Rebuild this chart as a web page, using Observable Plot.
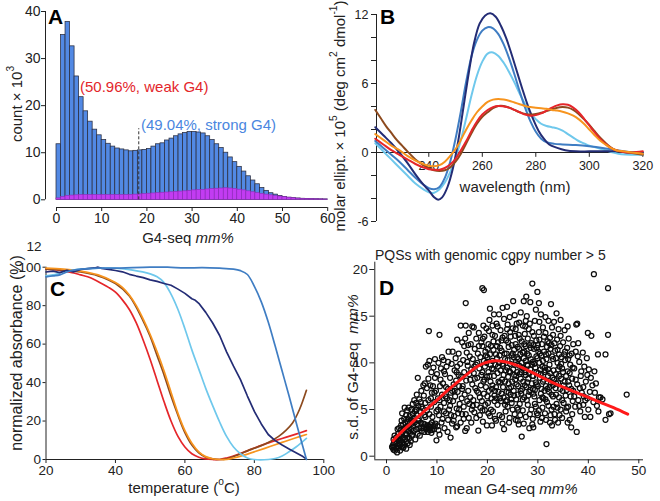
<!DOCTYPE html>
<html><head><meta charset="utf-8">
<script src="https://cdn.jsdelivr.net/npm/d3@7"></script>
<script src="https://cdn.jsdelivr.net/npm/@observablehq/plot@0.6"></script>
<style>
html,body{margin:0;padding:0;background:#fff;}
#fig{position:relative;width:660px;height:501px;overflow:hidden;background:#fff;}
#fig svg{position:absolute;left:0;top:0;}
</style></head><body><div id="fig"></div>
<script>
// ---------- DATA ----------
// Panel A: histogram of G4-seq mm% (count x 10^3), bins of width 1 from 0 to 60
const aBinStart = d3.range(0, 60);
const aAllCounts = [11.8,35.0,37.8,32.6,26.2,21.8,18.8,16.6,14.9,13.7,
  12.7,11.9,11.3,10.9,10.7,10.5,10.3,10.4,10.5,10.6,
  10.8,11.3,11.8,12.0,12.6,13.0,13.5,13.9,14.2,14.4,
  14.4,14.3,14.1,13.5,12.7,11.8,11.0,10.0,9.0,8.0,
  7.0,6.0,5.0,4.1,3.3,2.5,1.9,1.4,1.1,0.8,
  0.6,0.45,0.35,0.28,0.22,0.18,0.14,0.12,0.1,0.08];
const aSubCounts = [0.3,0.6,0.8,0.9,0.95,1.0,1.0,1.0,1.0,1.0,
  1.0,1.0,1.0,1.0,1.0,1.0,1.05,1.1,1.15,1.2,
  1.3,1.35,1.4,1.5,1.55,1.6,1.7,1.75,1.8,1.9,
  2.0,2.05,2.1,2.2,2.3,2.35,2.4,2.45,2.4,2.3,
  2.15,2.0,1.8,1.6,1.4,1.25,1.1,0.95,0.8,0.7,
  0.55,0.45,0.33,0.25,0.2,0.16,0.13,0.11,0.09,0.07];
const aSplit = 18.2, aSplitTop = 15.1;
const aXTicks = [0,10,20,30,40,50,60];
const aYTicks = [0,10,20,30,40];
const aWeakLabel = "(50.96%, weak G4)";
const aStrongLabel = "(49.04%, strong G4)";

// Panel B: CD spectra [wavelength nm, molar ellipticity x 10^5]
const bNavy = [[220,2.2],[223,1.5],[226,0.8],[229,0.0],[232,-0.9],[235,-1.9],[238,-2.8],[240,-3.3],[242,-3.9],[243.5,-4.1],[245,-3.9],[247,-3.0],[249,-1.4],[251,1.0],[253,4.0],[255,7.0],[257,9.6],[259,11.2],[261,11.9],[263,12.1],[265,11.8],[267,11.0],[269,9.9],[271,8.5],[273,7.0],[275,5.5],[277,4.1],[279,2.9],[281,1.9],[283,1.2],[285,0.7],[288,0.4],[291,0.2],[295,0.1],[300,0.1],[305,0.1],[310,0.1],[315,0.0],[320,0.0]];
const bMedium = [[220,1.0],[223,0.4],[226,-0.2],[229,-0.8],[232,-1.5],[235,-2.2],[238,-2.8],[240,-3.1],[242,-3.2],[244,-3.0],[246,-2.2],[248,-0.8],[250,1.2],[252,3.6],[254,6.2],[256,8.4],[258,9.8],[260,10.6],[262,10.9],[264,10.8],[266,10.3],[268,9.4],[270,8.2],[272,6.8],[274,5.3],[276,3.9],[278,2.7],[280,1.8],[282,1.2],[284,0.9],[287,0.75],[290,0.7],[295,0.65],[300,0.55],[305,0.4],[310,0.2],[315,0.05],[320,0.0]];
const bLight = [[220,0.8],[223,0.1],[226,-0.6],[229,-1.3],[232,-2.0],[235,-2.7],[238,-3.2],[240,-3.45],[242,-3.5],[244,-3.2],[246,-2.6],[248,-1.7],[250,-0.5],[252,1.1],[254,3.0],[256,5.0],[258,6.7],[260,7.9],[262,8.6],[264,8.7],[266,8.4],[268,7.8],[270,7.0],[272,6.1],[274,5.1],[276,4.2],[278,3.4],[280,2.9],[282,2.5],[284,2.3],[286,2.2],[288,2.1],[290,1.9],[292,1.6],[294,1.3],[296,1.0],[298,0.8],[300,0.6],[303,0.4],[306,0.2],[309,0.0],[312,-0.15],[316,-0.2],[320,-0.2]];
const bOrange = [[220,1.6],[223,1.1],[226,0.6],[229,0.2],[232,-0.3],[235,-0.7],[238,-1.0],[240,-1.15],[242,-1.2],[244,-1.1],[246,-0.8],[248,-0.3],[250,0.3],[252,1.1],[254,2.0],[256,2.8],[258,3.5],[260,4.0],[262,4.4],[264,4.6],[266,4.65],[268,4.6],[270,4.5],[272,4.35],[274,4.2],[276,4.05],[278,3.95],[280,3.9],[282,3.85],[284,3.8],[286,3.7],[288,3.65],[290,3.55],[292,3.4],[294,3.2],[296,2.9],[298,2.5],[300,2.0],[302,1.5],[304,1.05],[306,0.7],[308,0.4],[310,0.2],[313,0.1],[316,0.0],[320,-0.1]];
const bBrown = [[220,3.7],[222,3.0],[224,2.3],[226,1.7],[228,1.1],[230,0.6],[232,0.1],[235,-0.6],[238,-1.1],[240,-1.35],[242,-1.55],[244,-1.6],[246,-1.55],[248,-1.3],[250,-0.8],[252,-0.1],[254,0.8],[256,1.7],[258,2.5],[260,3.1],[262,3.5],[264,3.85],[266,4.05],[268,4.05],[270,3.9],[272,3.7],[274,3.5],[276,3.35],[278,3.3],[280,3.35],[282,3.45],[284,3.6],[286,3.75],[288,3.9],[290,3.95],[292,3.9],[294,3.7],[296,3.35],[298,2.9],[300,2.4],[302,1.85],[304,1.3],[306,0.85],[308,0.45],[310,0.2],[313,0.05],[316,-0.05],[320,-0.2]];
const bRed = [[220,1.2],[223,0.7],[226,0.2],[229,-0.2],[232,-0.6],[235,-1.0],[238,-1.3],[240,-1.45],[242,-1.5],[244,-1.5],[246,-1.35],[248,-1.05],[250,-0.55],[252,0.2],[254,1.0],[256,1.9],[258,2.7],[260,3.3],[262,3.7],[264,3.95],[266,4.05],[268,4.0],[270,3.9],[272,3.7],[274,3.5],[276,3.3],[278,3.2],[280,3.25],[282,3.4],[284,3.65],[286,3.9],[288,4.1],[290,4.2],[292,4.15],[294,3.9],[296,3.5],[298,2.95],[300,2.35],[302,1.75],[304,1.2],[306,0.75],[308,0.4],[310,0.2],[313,0.05],[316,0.0],[320,0.1]];
const bXTicks = [240,260,280,300,320];
const bYTicks = [-6,-4,-2,0,2,4,6,8,10,12];
const bYLabelled = [12,6,0,-6];

// Panel C: melting curves [temperature C, normalized absorbance %]
const cRed = [[20,99],[22,98.8],[25,98],[28,97],[30,96],[32,95],[34,93.5],[36,91.5],[38,89.5],[40,87],[42,83],[44,78],[46,71],[48,62],[50,52],[52,41],[54,30],[56,20],[58,12],[60,6.5],[62,3],[64,1.2],[66,0.3],[68,0],[70,0],[72,0.8],[75,2.5],[78,4.5],[80,6],[83,8],[86,9.8],[89,11.5],[92,13.2],[95,15]];
const cOrange = [[20,99.5],[25,99],[30,98],[35,96],[40,92],[42,89.5],[44,85.5],[46,80],[48,73],[50,65],[52,56],[54,46],[56,35],[58,24],[60,15],[62,8.5],[64,4],[66,1.5],[68,0.4],[70,0],[72,0],[74,0.8],[77,2.3],[80,4],[83,5.8],[86,7.7],[89,9.5],[92,11.3],[95,13]];
const cBrown = [[20,99],[25,98.5],[30,97.5],[35,95.5],[40,91.5],[44,85],[48,72],[50,64],[52,54],[54,44],[56,33],[58,23],[60,14],[62,7.5],[64,3.5],[66,1.2],[68,0.3],[70,0],[72,0.3],[75,2.2],[78,4.5],[81,6.5],[84,8.8],[87,12],[89,15],[91,19],[93,26],[95,36]];
const cLight = [[20,95.5],[22,96],[25,97.5],[28,98.5],[30,99],[35,99.5],[40,99.5],[45,98.5],[50,96.5],[52,95],[54,92],[56,86],[58,78],[60,68],[62,57],[64,47],[66,37],[68,28],[70,19.5],[72,12],[74,6.5],[76,3],[78,0.8],[80,0],[84,0],[86,0.5],[88,1.8],[90,4],[92,6.5],[95,11]];
const cNavy = [[20,97.5],[22,98],[24,97.2],[26,98.4],[28,97.6],[30,98.8],[32,99.3],[34,99.6],[35,100],[36,99.4],[38,98.9],[40,98.3],[42,97.6],[44,96.3],[46,95.4],[48,94.6],[50,93.4],[52,92.6],[54,91.5],[56,90.6],[58,88.6],[60,86.4],[62,83.6],[63,82.8],[64,81.2],[66,76.5],[68,71],[70,64.5],[72,56],[74,48.5],[76,41.5],[78,33],[80,25],[82,18.5],[84,13],[86,9.8],[88,7.5],[90,5.5],[92,3.5],[94,1.5],[95,0.2]];
const cMedium = [[20,95],[22,95.5],[24,96],[26,97.5],[28,98.5],[30,99],[35,99.5],[40,99.5],[45,99.8],[50,100],[55,100],[60,99.6],[65,99.8],[70,99.5],[74,99],[76,98.2],[78,96.2],[80,90],[82,82],[84,71.5],[86,59],[88,46],[90,33],[92,19.5],[94,6.5],[95,0]];
const cXTicks = [20,40,60,80,100];
const cYTicks = [0,20,40,60,80,100];

// Panel D: [mean G4-seq mm%, s.d. of G4-seq mm%]
const dPoints = [
[1.2,0.9],[1.3,1.2],[1.4,0.7],[1.5,1.5],[1.6,1.0],[1.7,0.6],[1.8,1.3],[1.9,2.0],[2.0,0.8],[2.0,1.6],[2.1,0.4],[2.2,1.1],[2.3,2.4],[2.3,1.8],[2.4,0.9],[2.5,3.0],[2.5,1.4],[2.6,2.1],[2.7,0.6],[2.7,1.2],[2.8,2.8],[2.8,1.7],[2.9,3.3],[2.9,2.3],[3.0,1.0],[1.6,2.2],[2.2,2.9],[1.1,1.0],[1.4,1.8],[3.1,4.6],
[3.1,1.5],[3.2,2.6],[3.3,3.4],[3.3,0.9],[3.4,2.0],[3.5,4.0],[3.5,1.2],[3.6,2.9],[3.7,3.6],[3.7,1.8],[3.8,2.4],[3.9,4.4],[3.9,0.8],[4.0,3.1],[4.1,2.0],[4.1,4.9],[4.2,1.4],[4.3,3.7],[4.3,2.7],[4.4,5.2],[4.5,1.9],[4.5,3.3],[4.6,4.3],[4.7,2.5],[4.8,3.9],[4.8,1.6],[4.9,5.0],[4.9,2.9],[5.0,3.5],[3.6,5.2],[4.2,4.0],[4.6,1.2],[3.0,3.8],[3.4,1.0],
[5.1,2.3],[5.2,4.5],[5.2,5.6],[5.3,3.2],[5.4,2.7],[5.5,6.0],[5.5,4.1],[5.6,3.6],[5.7,1.8],[5.8,5.0],[5.9,2.9],[6.0,6.6],[6.0,4.4],[6.1,3.4],[6.2,8.4],[6.2,2.4],[6.3,5.4],[6.4,4.0],[6.5,6.1],[6.5,3.0],[6.6,2.2],[6.7,4.8],[6.8,5.8],[6.8,3.6],[6.9,7.0],[7.0,2.7],[5.6,4.8],[6.3,3.8],[5.9,5.7],
[7.1,3.0],[7.2,5.1],[7.3,3.5],[7.4,6.5],[7.5,2.6],[7.5,4.4],[7.6,7.8],[7.7,3.2],[7.7,5.7],[7.8,9.6],[7.9,2.9],[8.0,4.9],[8.0,7.3],[8.1,3.3],[8.2,9.8],[8.2,2.6],[8.3,6.0],[8.4,13.4],[8.4,3.1],[8.5,4.5],[8.5,10.2],[8.6,2.8],[8.7,7.6],[8.7,3.4],[8.8,5.3],[8.9,9.0],[8.9,2.5],[9.0,6.8],[9.0,3.6],[7.3,7.6],[8.3,8.3],
[9.1,4.2],[9.2,7.5],[9.3,3.2],[9.3,9.5],[9.4,2.9],[9.5,5.8],[9.6,10.4],[9.7,3.5],[9.8,7.0],[9.9,1.7],[9.9,4.8],[10.0,8.8],[10.1,3.2],[10.2,6.2],[10.3,10.0],[10.4,4.4],[10.5,13.0],[10.5,2.3],[10.6,7.5],[10.7,5.3],[10.8,9.4],[10.9,3.6],[11.0,6.6],[11.0,10.6],[9.5,6.8],[10.2,5.0],[10.7,8.2],
[11.1,4.0],[11.2,7.8],[11.3,10.3],[11.4,5.7],[11.5,3.0],[11.6,8.8],[11.7,6.4],[11.8,4.6],[11.9,9.6],[12.0,6.2],[12.1,2.6],[12.2,7.2],[12.3,11.2],[12.4,5.0],[12.5,6.0],[12.6,8.4],[12.7,2.0],[12.8,4.4],[12.9,9.9],[13.0,7.0],[13.0,3.5],[11.4,9.1],[12.2,10.1],[12.6,5.4],
[13.1,11.2],[13.2,5.9],[13.3,7.7],[13.4,4.3],[13.5,9.2],[13.6,6.4],[13.7,10.5],[13.8,3.1],[13.8,8.1],[13.9,5.1],[14.0,12.5],[14.0,9.6],[14.1,6.9],[14.2,4.6],[14.3,11.0],[14.4,7.5],[14.5,5.6],[14.6,9.9],[14.7,14.0],[14.7,3.6],[14.8,8.5],[14.9,6.2],[15.0,12.2],[15.0,4.5],[13.5,7.0],[14.3,8.7],
[15.1,7.5],[15.2,10.3],[15.3,5.3],[15.4,9.0],[15.5,6.6],[15.6,12.6],[15.7,16.4],[15.7,14.0],[15.7,4.5],[15.8,8.1],[15.9,11.1],[16.0,5.9],[16.1,9.7],[16.2,7.0],[16.3,13.2],[16.3,4.1],[16.4,8.8],[16.5,10.7],[16.6,6.3],[16.7,12.0],[16.8,9.3],[16.9,5.0],[17.0,13.9],[17.0,7.7],[15.4,11.8],[16.0,10.1],[16.6,8.2],[15.9,3.0],
[17.1,10.4],[17.2,6.0],[17.3,13.8],[17.3,8.9],[17.4,4.7],[17.5,11.5],[17.6,7.3],[17.7,9.8],[17.8,12.6],[17.9,5.5],[18.0,8.4],[18.1,11.0],[18.2,2.75],[18.2,6.8],[18.3,13.2],[18.4,9.4],[18.5,4.4],[18.6,10.6],[18.7,7.6],[18.8,12.2],[18.9,5.9],[19.0,18.0],[19.0,9.0],[19.0,11.8],[19.1,3.7],[19.2,8.0],[19.3,17.8],[19.3,10.2],[17.5,8.3],[18.0,10.0],[18.5,6.3],[17.8,4.1],[18.8,8.7],[19.2,14.0],
[19.3,6.7],[19.4,12.8],[19.5,4.9],[19.5,9.6],[19.6,11.2],[19.7,7.4],[19.8,13.7],[19.9,3.3],[19.9,8.5],[20.0,10.6],[20.1,5.7],[20.2,12.0],[20.2,9.0],[20.3,7.0],[20.4,14.6],[20.5,4.3],[20.5,10.9],[20.6,8.0],[20.7,11.8],[20.8,6.2],[20.9,3.3],[20.9,9.4],[21.0,13.0],[21.0,7.6],[19.6,5.5],[20.1,11.5],[20.7,5.0],[19.8,10.0],[20.4,8.6],[21.0,10.2],
[21.1,4.8],[21.2,11.4],[21.3,15.2],[21.3,8.6],[21.4,6.5],[21.5,12.9],[21.6,9.8],[21.7,3.8],[21.7,7.4],[21.8,14.2],[21.9,10.5],[22.0,5.5],[22.0,8.9],[22.1,12.2],[22.2,6.9],[22.3,15.2],[22.3,10.0],[22.4,4.4],[22.5,7.9],[22.6,13.5],[22.6,9.2],[22.7,5.9],[22.8,11.3],[22.9,8.2],[23.0,3.5],[23.0,12.7],[21.5,7.0],[22.1,9.6],[22.8,6.7],[21.9,11.8],[22.4,10.8],[21.2,9.3],
[23.1,9.7],[23.2,6.3],[23.3,14.7],[23.3,2.9],[23.4,11.0],[23.5,8.0],[23.6,4.8],[23.7,12.4],[23.7,9.2],[23.8,6.9],[23.9,13.6],[24.0,10.3],[24.0,5.3],[24.1,8.5],[24.2,11.7],[24.3,7.3],[24.4,14.9],[24.4,4.1],[24.5,9.9],[24.6,12.8],[24.7,6.1],[24.8,10.8],[24.9,20.8],[24.9,8.0],[25.0,13.7],[25.0,5.0],[23.5,10.4],[24.2,7.8],[24.8,11.9],[23.9,6.0],[24.5,9.0],[23.2,8.7],[24.1,12.2],
[25.1,16.6],[25.1,9.3],[25.2,7.0],[25.3,11.4],[25.4,4.5],[25.5,12.9],[25.5,8.2],[25.6,10.1],[25.7,6.1],[25.8,14.2],[25.9,9.0],[26.0,3.8],[26.0,11.7],[26.1,7.5],[26.2,3.4],[26.2,13.0],[26.3,9.7],[26.4,5.6],[26.5,10.9],[26.6,15.4],[26.6,8.3],[26.7,6.7],[26.8,2.1],[26.8,12.3],[26.9,9.5],[27.0,4.9],[27.0,11.1],[25.3,6.5],[25.8,7.7],[26.4,8.8],[26.9,7.2],[25.6,12.0],[26.1,10.4],[27.0,14.0],[25.9,5.2],
[27.1,8.0],[27.2,16.6],[27.2,10.5],[27.3,6.3],[27.4,13.1],[27.5,9.0],[27.6,4.2],[27.6,11.8],[27.7,7.4],[27.8,15.0],[27.9,9.8],[28.0,5.5],[28.0,12.6],[28.1,8.3],[28.2,10.8],[28.3,3.0],[28.3,6.9],[28.4,14.2],[28.5,16.5],[28.5,9.3],[28.6,11.6],[28.7,5.0],[28.8,7.8],[28.9,18.5],[28.9,13.3],[29.0,10.1],[29.0,4.0],[27.3,11.2],[27.8,6.0],[28.2,8.9],[28.7,12.1],[29.0,7.2],[27.5,13.9],[28.4,4.5],[28.0,9.7],
[29.1,3.1],[29.1,8.6],[29.2,11.5],[29.3,6.4],[29.4,14.5],[29.5,9.5],[29.6,5.3],[29.7,12.4],[29.8,7.7],[29.9,17.6],[29.9,10.5],[30.0,4.4],[30.1,8.9],[30.2,13.3],[30.3,6.0],[30.4,11.0],[30.5,3.7],[30.5,9.3],[30.6,15.2],[30.7,7.2],[30.8,12.0],[30.9,5.2],[31.0,10.2],[31.0,8.0],[29.4,7.1],[30.0,11.9],[30.6,6.7],[29.7,9.0],[30.3,10.0],[31.0,13.8],[29.2,12.9],[30.8,4.1],
[31.1,6.2],[31.2,11.2],[31.3,9.0],[31.4,4.6],[31.5,13.2],[31.6,7.5],[31.7,1.3],[31.7,10.4],[31.8,5.8],[31.9,12.3],[32.0,8.6],[32.1,14.5],[32.2,6.9],[32.3,9.8],[32.4,3.6],[32.5,11.5],[32.6,16.3],[32.6,7.9],[32.7,5.0],[32.8,10.7],[32.9,8.4],[33.0,13.0],[33.0,6.4],[31.4,9.5],[32.1,11.0],[32.8,3.3],[31.9,7.2],[32.4,12.7],[31.2,8.2],
[33.1,9.2],[33.2,14.4],[33.3,4.5],[33.4,11.3],[33.5,7.3],[33.6,8.8],[33.7,5.6],[33.8,12.5],[33.9,10.0],[34.0,3.6],[34.0,7.9],[34.1,13.6],[34.2,6.3],[34.3,9.6],[34.4,11.8],[34.5,14.6],[34.5,5.0],[34.6,8.3],[34.7,10.6],[34.8,4.1],[34.9,7.0],[35.0,12.2],[35.0,9.0],[33.6,6.6],[34.2,10.9],[34.8,6.0],[33.4,3.9],
[35.1,5.7],[35.3,13.5],[35.3,8.0],[35.4,10.3],[35.6,4.8],[35.7,7.1],[35.8,11.6],[35.9,9.1],[36.0,5.3],[36.1,12.6],[36.2,7.6],[36.3,3.9],[36.4,9.8],[36.5,6.4],[36.6,3.1],[36.7,11.0],[36.8,8.3],[36.9,5.9],[37.0,12.0],[37.0,7.0],[35.5,6.5],[36.3,8.9],[36.8,4.5],
[37.2,9.4],[37.4,5.3],[37.6,14.1],[37.7,2.6],[37.8,14.2],[37.8,7.7],[38.0,12.1],[38.0,6.0],[38.2,10.1],[38.4,4.8],[38.5,8.6],[38.7,6.8],[38.9,11.1],[39.0,5.5],[39.1,6.4],[39.2,9.6],[38.3,7.3],[37.5,11.2],
[39.3,4.2],[39.5,8.0],[39.8,6.2],[39.9,13.2],[40.0,5.0],[40.1,9.3],[40.3,6.9],[40.4,4.2],[40.6,12.9],[40.8,7.6],[41.0,5.8],[39.7,10.5],[40.5,8.4],
[41.1,19.5],[41.3,6.8],[41.5,7.8],[41.7,5.4],[41.9,10.9],[42.1,6.3],[42.4,6.3],[42.8,6.1],[43.4,10.9],[43.4,3.9],[43.9,18.0],[43.9,13.0],[44.1,4.5],[44.4,4.6],[47.6,6.6],[41.2,9.1],[42.0,4.8],
[24.3,9.1],[24.7,7.4],[25.2,10.6],[25.7,8.6],[26.3,11.5],[26.6,7.0],[27.1,9.4],[27.4,7.6],[27.9,11.0],[28.1,6.5],[28.6,10.4],[28.9,8.6],[29.3,9.9],[29.6,7.9],[30.1,11.2],[30.4,8.4],[30.9,9.6],[31.3,7.0],[31.6,10.9],[32.0,9.3],[32.3,7.4],[32.7,11.9],[33.2,8.2],[33.6,10.5],[34.0,9.3],[34.4,7.2],[35.2,10.9],[35.6,8.6],[36.0,10.4],[24.6,6.6],[25.4,9.8],[26.0,6.6],[26.8,10.0],[27.6,8.7],[28.3,11.9],[29.1,6.7],[29.8,11.6],[30.7,10.8],[31.5,6.1],[32.2,12.1],[33.0,7.6],[33.9,11.4],[34.6,9.9],[23.8,11.0],[23.0,9.9],[22.5,11.6],[21.8,6.2],
[17.4,9.6],[17.9,7.0],[18.3,11.8],[18.6,5.2],[19.1,12.6],[19.4,8.2],[19.7,10.8],[20.0,6.4],[20.3,13.4],[20.6,9.8],[20.9,7.2],[21.2,12.3],[21.4,5.9],[21.7,10.9],[22.0,13.9],[22.2,8.0],[22.5,6.2],[22.8,12.4],[23.1,7.4],[23.4,12.9],[23.6,5.9],[23.9,9.5],[24.2,6.8],[24.5,13.3],[24.8,5.7],[25.0,11.0],[25.3,8.7],[25.6,13.6],[25.9,10.6],[26.1,5.0],[26.4,12.6],[26.7,9.0],[27.0,6.1],[27.3,12.0],[27.6,10.2],[27.9,7.9],[28.2,13.6],[28.5,7.1],[28.8,9.8],[29.1,11.9],[29.4,5.6],[29.7,10.7],[30.0,7.5],[30.3,12.5],[30.6,8.8],[30.9,6.3],[31.2,12.8],[31.5,9.2],[31.8,11.7],[32.1,5.4],[32.4,8.9],[32.7,6.6],[33.0,10.4],[33.3,12.1],[33.6,7.8],[33.9,5.2],[34.2,8.6],[34.5,12.9],[34.8,9.4],[35.1,7.6],[35.4,11.2],[35.7,5.2],[36.0,8.0],[36.3,10.8],[36.6,7.2],[36.9,9.5],[37.2,6.4],[37.5,8.2],[37.9,10.7],[38.2,5.4],[38.6,9.1],[39.0,7.4],[39.4,6.0],[39.8,8.7],
[19.0,4.9],[20.2,4.6],[21.5,4.0],[22.9,4.2],[24.3,3.6],[25.6,3.9],[27.2,3.5],[28.9,3.4],[30.2,4.9],[31.6,3.9],[33.1,5.3],[34.3,4.4],[35.9,3.6],[23.5,5.5],[26.5,4.4],[29.8,4.6],[32.5,4.4],[20.5,15.8],[23.0,15.9],[25.4,15.1],[27.6,14.5],[29.6,15.7],[31.5,14.9],[33.7,15.3],[26.3,14.3],[24.0,14.1],[21.0,14.0],[30.3,14.4],[32.8,13.8],[35.9,13.9],[23.9,16.0],[27.7,17.1],[30.2,16.4],
[8.0,3.0],[9.0,2.8],[9.6,3.3],[10.3,2.8],[7.6,3.4],[8.6,3.2],[5.0,2.2],[4.0,2.3],[3.5,3.0],[2.6,1.7],[3.2,1.9],[11.4,4.8],[12.2,3.9],[13.3,3.8],[14.4,5.0],[15.3,4.0],[16.4,5.6],[12.7,6.8],[13.9,9.0],[15.0,7.2],[16.2,11.9],[17.1,5.4],[11.8,7.4],[10.5,6.0],[9.6,8.4],[8.8,6.2],[7.7,4.2],[6.9,5.3],[6.0,5.0],[5.4,3.8],[14.0,3.2],[15.6,2.7],[16.8,3.6]
];
const dLoess = [[1.3,1.65],[3,2.6],[5,3.6],[7,4.6],[10,6.0],[12,7.0],[14,7.9],[16,8.8],[18,9.6],[19.5,10.0],[21,10.2],[22.5,10.2],[24,10.05],[26,9.7],[28,9.2],[30,8.65],[32.5,8.0],[35,7.4],[37.5,6.85],[40,6.3],[42.5,5.75],[45,5.2],[47.8,4.5]];
const dXTicks = [0,10,20,30,40,50];
const dYTicks = [0,5,10,15,20];
const dTitle = "PQSs with genomic copy number > 5";

// ---------- STYLE / LAYOUT ----------
const FONT = '"Liberation Sans", Arial, Helvetica, sans-serif';
const INK = "#222";
const COL = {navy:"#232c75", medium:"#3f7dc3", light:"#6fc8ec", orange:"#f7941e", brown:"#8d4a1e", red:"#e5262a"};
const W = 660, H = 501;
const fig = document.getElementById("fig");

function lin(v1, p1, v2, p2) { const k = (v2 - v1) / (p2 - p1); return p => v1 + (p - p1) * k; }
function panel(cfg, makeMarks) {
  const fx = lin(cfg.xv[0], cfg.xp[0], cfg.xv[1], cfg.xp[1]);
  const fy = lin(cfg.yv[0], cfg.yp[0], cfg.yv[1], cfg.yp[1]);
  const f = cfg.frame;
  const s = {x0: fx(f.l), x1: fx(f.r), y0: fy(f.b), y1: fy(f.t)};
  const svg = Plot.plot({
    width: W, height: H,
    marginLeft: f.l, marginRight: W - f.r, marginTop: f.t, marginBottom: H - f.b,
    x: {domain: [s.x0, s.x1], axis: null},
    y: {domain: [s.y0, s.y1], axis: null},
    style: {background: "transparent", color: INK, fontFamily: FONT, overflow: "visible"},
    marks: makeMarks(s)
  });
  fig.appendChild(svg);
  return svg;
}
function label(svg, x, y, parts, o = {}) {
  const t = d3.select(svg).append("text")
    .attr("x", x).attr("y", y)
    .attr("font-family", FONT)
    .attr("font-size", o.size || 15)
    .attr("fill", o.fill || INK)
    .attr("text-anchor", o.anchor || "middle")
    .attr("dominant-baseline", "central");
  if (o.rotate) t.attr("transform", `rotate(-90 ${x} ${y})`);
  if (o.weight) t.attr("font-weight", o.weight);
  for (const p of parts) {
    const s = t.append("tspan").text(p.t);
    if (p.i) s.attr("font-style", "italic");
    if (p.sup) s.attr("baseline-shift", "super").attr("font-size", "68%");
  }
}

// ---------- PANEL A ----------
const aTable = aBinStart.map((b, i) => ({b, all: aAllCounts[i], sub: aSubCounts[i]}));
const svgA = panel({xv: [0, 60], xp: [56, 327.2], yv: [0, 40], yp: [199.3, 11], frame: {l: 45, r: 332, t: 6, b: 207}}, s => [
  Plot.rectY(aTable, {x1: "b", x2: d => d.b + 1, y1: 0, y2: "all", fill: "#5289e4", stroke: "#2a2d3e", strokeWidth: 0.75}),
  Plot.rectY(aTable, {x1: "b", x2: d => d.b + 1, y1: 0, y2: "sub", fill: "#c23cf2", stroke: "#8e2ab8", strokeWidth: 0.6}),
  Plot.ruleX([aSplit], {y1: 0, y2: aSplitTop, stroke: "#333", strokeWidth: 1, strokeDasharray: "3,2"}),
  Plot.ruleY([s.y0], {x1: 0, x2: 60, stroke: INK}),
  Plot.ruleX([s.x0], {y1: 0, y2: 40, stroke: INK}),
  Plot.axisX({ticks: aXTicks, tickSize: 4, tickPadding: 2, fontSize: 14, label: null}),
  Plot.axisY({ticks: aYTicks, tickSize: 4, tickPadding: 1, fontSize: 14, label: null})
]);
label(svgA, 48, 16, [{t: "A"}], {size: 21, weight: "bold", anchor: "start", fill: "#000"});
label(svgA, 16, 104, [{t: "count × 10"}, {t: "3", sup: true}], {rotate: true});
label(svgA, 188, 237, [{t: "G4-seq "}, {t: "mm%", i: true}]);
label(svgA, 80, 86, [{t: aWeakLabel}], {anchor: "start", fill: "#e3262b"});
label(svgA, 141, 124, [{t: aStrongLabel}], {anchor: "start", fill: "#4a86e0"});

// ---------- PANEL B ----------
const svgB = panel({xv: [240, 320], xp: [428.3, 642.3], yv: [-6, 12], yp: [221, 14], frame: {l: 376, r: 648, t: 8, b: 226}}, s => [
  Plot.ruleY([0], {x1: 220, x2: 320, stroke: INK, strokeWidth: 1.2}),
  Plot.ruleX(bXTicks, {x: d => d, y1: 0, y2: -0.42, stroke: INK}),
  Plot.text(bXTicks, {x: d => d, y: 0, dy: 9, lineAnchor: "top", text: d => String(d), fontSize: 12.5, fill: INK}),
  Plot.ruleX([s.x0], {y1: -6, y2: 12, stroke: INK}),
  Plot.axisY({ticks: bYTicks, tickSize: 5, tickPadding: 3, fontSize: 12.5, label: null,
    tickFormat: d => bYLabelled.includes(d) ? (d < 0 ? "-" + (-d) : String(d)) : ""}),
  Plot.line(bLight, {x: d => d[0], y: d => d[1], stroke: COL.light, strokeWidth: 2, curve: "catmull-rom"}),
  Plot.line(bMedium, {x: d => d[0], y: d => d[1], stroke: COL.medium, strokeWidth: 2, curve: "catmull-rom"}),
  Plot.line(bNavy, {x: d => d[0], y: d => d[1], stroke: COL.navy, strokeWidth: 2, curve: "catmull-rom"}),
  Plot.line(bBrown, {x: d => d[0], y: d => d[1], stroke: COL.brown, strokeWidth: 2, curve: "catmull-rom"}),
  Plot.line(bRed, {x: d => d[0], y: d => d[1], stroke: COL.red, strokeWidth: 2, curve: "catmull-rom"}),
  Plot.line(bOrange, {x: d => d[0], y: d => d[1], stroke: COL.orange, strokeWidth: 2, curve: "catmull-rom"})
]);
label(svgB, 380, 16, [{t: "B"}], {size: 21, weight: "bold", anchor: "start", fill: "#000"});
label(svgB, 515, 186, [{t: "wavelength (nm)"}]);
label(svgB, 339, 116, [{t: "molar ellipt. × 10"}, {t: "5", sup: true}, {t: " (deg cm"}, {t: "2", sup: true}, {t: " dmol"}, {t: "-1", sup: true}, {t: ")"}], {rotate: true});

// ---------- PANEL C ----------
const svgC = panel({xv: [20, 100], xp: [45.5, 323.3], yv: [0, 100], yp: [459, 266.7], frame: {l: 45.5, r: 330, t: 262, b: 459}}, s => [
  Plot.ruleY([0], {x1: 20, x2: 100, stroke: INK}),
  Plot.ruleX([20], {y1: 0, y2: 100, stroke: INK}),
  Plot.axisX({ticks: cXTicks, tickSize: 4, tickPadding: 2, fontSize: 13.5, label: null}),
  Plot.axisY({ticks: cYTicks, tickSize: 3, tickPadding: 2, fontSize: 13.5, label: null}),
  Plot.line(cRed, {x: d => d[0], y: d => d[1], stroke: COL.red, strokeWidth: 1.7, curve: "catmull-rom"}),
  Plot.line(cBrown, {x: d => d[0], y: d => d[1], stroke: COL.brown, strokeWidth: 1.7, curve: "catmull-rom"}),
  Plot.line(cOrange, {x: d => d[0], y: d => d[1], stroke: COL.orange, strokeWidth: 1.7, curve: "catmull-rom"}),
  Plot.line(cLight, {x: d => d[0], y: d => d[1], stroke: COL.light, strokeWidth: 1.7, curve: "catmull-rom"}),
  Plot.line(cNavy, {x: d => d[0], y: d => d[1], stroke: COL.navy, strokeWidth: 1.7}),
  Plot.line(cMedium, {x: d => d[0], y: d => d[1], stroke: COL.medium, strokeWidth: 1.7, curve: "catmull-rom"})
]);
label(svgC, 34, 246, [{t: "12"}], {size: 13.5});
label(svgC, 50, 288, [{t: "C"}], {size: 21, weight: "bold", anchor: "start", fill: "#000"});
label(svgC, 184, 487, [{t: "temperature ("}, {t: "o", sup: true}, {t: "C)"}]);
label(svgC, 16, 353, [{t: "normalized absorbance (%)"}], {rotate: true, size: 16});

// ---------- PANEL D ----------
const svgD = panel({xv: [0, 50], xp: [386, 638.3], yv: [0, 20], yp: [455.7, 269], frame: {l: 374.3, r: 643, t: 261.7, b: 459.3}}, s => [
  Plot.ruleY([s.y0], {x1: s.x0, x2: s.x1, stroke: INK}),
  Plot.ruleX([s.x0], {y1: s.y0, y2: s.y1, stroke: INK}),
  Plot.axisX({ticks: dXTicks, tickSize: 4, tickPadding: 2, fontSize: 13.5, label: null}),
  Plot.axisY({ticks: dYTicks, tickSize: 5, tickPadding: 2, fontSize: 13.5, label: null}),
  Plot.dot(dPoints, {x: d => d[0], y: d => d[1], r: 2.5, stroke: "#0d0d0d", strokeWidth: 1.25, fill: "none"}),
  Plot.line(dLoess, {x: d => d[0], y: d => d[1], stroke: "#ff1a1a", strokeWidth: 3, curve: "natural"})
]);
label(svgD, 375, 255, [{t: dTitle}], {anchor: "start", size: 14});
label(svgD, 379, 287, [{t: "D"}], {size: 21, weight: "bold", anchor: "start", fill: "#000"});
label(svgD, 511, 488, [{t: "mean G4-seq "}, {t: "mm%", i: true}]);
label(svgD, 352, 367, [{t: "s.d. of G4-seq  "}, {t: "mm%", i: true}], {rotate: true, size: 15.5});
</script></body></html>
